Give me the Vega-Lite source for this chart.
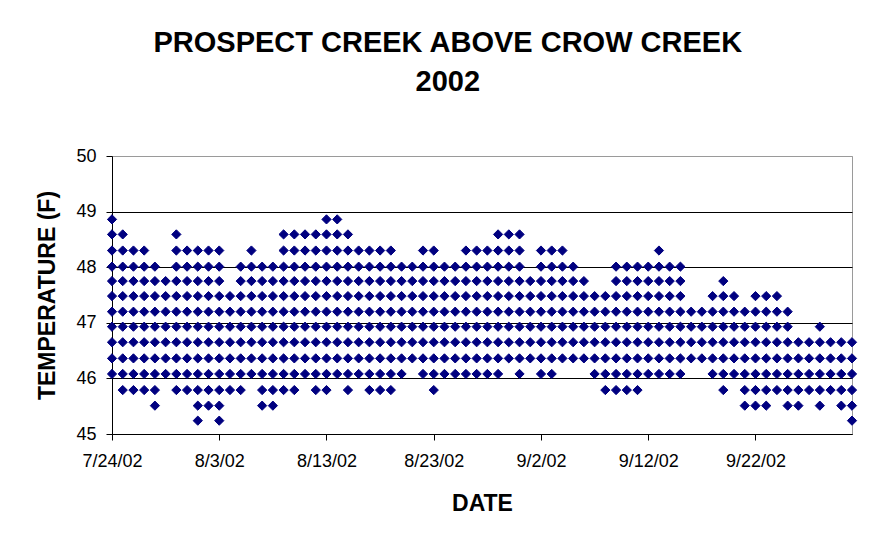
{
"$schema": "https://vega.github.io/schema/vega-lite/v6.json",
"width": 740, "height": 278,
"autosize": "none",
"padding": {"left": 112, "top": 156, "right": 44, "bottom": 116},
"background": "white",
"title": {"text": ["PROSPECT CREEK ABOVE CROW CREEK", "2002"], "font": "Liberation Sans", "fontSize": 29, "fontWeight": "bold", "color": "black", "anchor": "middle", "frame": "bounds", "offset": 50, "lineHeight": 39},
"data": {"values": [
{"d":"2002-07-24","t":46.08},{"d":"2002-07-24","t":46.36},{"d":"2002-07-24","t":46.65},{"d":"2002-07-24","t":46.93},{"d":"2002-07-24","t":47.2},{"d":"2002-07-24","t":47.48},{"d":"2002-07-24","t":47.75},{"d":"2002-07-24","t":48.01},{"d":"2002-07-24","t":48.3},{"d":"2002-07-24","t":48.59},{"d":"2002-07-24","t":48.86},
{"d":"2002-07-25","t":45.79},{"d":"2002-07-25","t":46.08},{"d":"2002-07-25","t":46.36},{"d":"2002-07-25","t":46.65},{"d":"2002-07-25","t":46.93},{"d":"2002-07-25","t":47.2},{"d":"2002-07-25","t":47.48},{"d":"2002-07-25","t":47.75},{"d":"2002-07-25","t":48.01},{"d":"2002-07-25","t":48.3},{"d":"2002-07-25","t":48.59},
{"d":"2002-07-26","t":45.79},{"d":"2002-07-26","t":46.08},{"d":"2002-07-26","t":46.36},{"d":"2002-07-26","t":46.65},{"d":"2002-07-26","t":46.93},{"d":"2002-07-26","t":47.2},{"d":"2002-07-26","t":47.48},{"d":"2002-07-26","t":47.75},{"d":"2002-07-26","t":48.01},{"d":"2002-07-26","t":48.3},
{"d":"2002-07-27","t":45.79},{"d":"2002-07-27","t":46.08},{"d":"2002-07-27","t":46.36},{"d":"2002-07-27","t":46.65},{"d":"2002-07-27","t":46.93},{"d":"2002-07-27","t":47.2},{"d":"2002-07-27","t":47.48},{"d":"2002-07-27","t":47.75},{"d":"2002-07-27","t":48.01},{"d":"2002-07-27","t":48.3},
{"d":"2002-07-28","t":45.51},{"d":"2002-07-28","t":45.79},{"d":"2002-07-28","t":46.08},{"d":"2002-07-28","t":46.36},{"d":"2002-07-28","t":46.65},{"d":"2002-07-28","t":46.93},{"d":"2002-07-28","t":47.2},{"d":"2002-07-28","t":47.48},{"d":"2002-07-28","t":47.75},{"d":"2002-07-28","t":48.01},
{"d":"2002-07-29","t":46.08},{"d":"2002-07-29","t":46.36},{"d":"2002-07-29","t":46.65},{"d":"2002-07-29","t":46.93},{"d":"2002-07-29","t":47.2},{"d":"2002-07-29","t":47.48},{"d":"2002-07-29","t":47.75},
{"d":"2002-07-30","t":45.79},{"d":"2002-07-30","t":46.08},{"d":"2002-07-30","t":46.36},{"d":"2002-07-30","t":46.65},{"d":"2002-07-30","t":46.93},{"d":"2002-07-30","t":47.2},{"d":"2002-07-30","t":47.48},{"d":"2002-07-30","t":47.75},{"d":"2002-07-30","t":48.01},{"d":"2002-07-30","t":48.3},{"d":"2002-07-30","t":48.59},
{"d":"2002-07-31","t":45.79},{"d":"2002-07-31","t":46.08},{"d":"2002-07-31","t":46.36},{"d":"2002-07-31","t":46.65},{"d":"2002-07-31","t":46.93},{"d":"2002-07-31","t":47.2},{"d":"2002-07-31","t":47.48},{"d":"2002-07-31","t":47.75},{"d":"2002-07-31","t":48.01},{"d":"2002-07-31","t":48.3},
{"d":"2002-08-01","t":45.24},{"d":"2002-08-01","t":45.51},{"d":"2002-08-01","t":45.79},{"d":"2002-08-01","t":46.08},{"d":"2002-08-01","t":46.36},{"d":"2002-08-01","t":46.65},{"d":"2002-08-01","t":46.93},{"d":"2002-08-01","t":47.2},{"d":"2002-08-01","t":47.48},{"d":"2002-08-01","t":47.75},{"d":"2002-08-01","t":48.01},{"d":"2002-08-01","t":48.3},
{"d":"2002-08-02","t":45.51},{"d":"2002-08-02","t":45.79},{"d":"2002-08-02","t":46.08},{"d":"2002-08-02","t":46.36},{"d":"2002-08-02","t":46.65},{"d":"2002-08-02","t":46.93},{"d":"2002-08-02","t":47.2},{"d":"2002-08-02","t":47.48},{"d":"2002-08-02","t":47.75},{"d":"2002-08-02","t":48.01},{"d":"2002-08-02","t":48.3},
{"d":"2002-08-03","t":45.24},{"d":"2002-08-03","t":45.51},{"d":"2002-08-03","t":45.79},{"d":"2002-08-03","t":46.08},{"d":"2002-08-03","t":46.36},{"d":"2002-08-03","t":46.65},{"d":"2002-08-03","t":46.93},{"d":"2002-08-03","t":47.2},{"d":"2002-08-03","t":47.48},{"d":"2002-08-03","t":47.75},{"d":"2002-08-03","t":48.01},{"d":"2002-08-03","t":48.3},
{"d":"2002-08-04","t":45.79},{"d":"2002-08-04","t":46.08},{"d":"2002-08-04","t":46.36},{"d":"2002-08-04","t":46.65},{"d":"2002-08-04","t":46.93},{"d":"2002-08-04","t":47.2},{"d":"2002-08-04","t":47.48},
{"d":"2002-08-05","t":45.79},{"d":"2002-08-05","t":46.08},{"d":"2002-08-05","t":46.36},{"d":"2002-08-05","t":46.65},{"d":"2002-08-05","t":46.93},{"d":"2002-08-05","t":47.2},{"d":"2002-08-05","t":47.48},{"d":"2002-08-05","t":47.75},{"d":"2002-08-05","t":48.01},
{"d":"2002-08-06","t":46.08},{"d":"2002-08-06","t":46.36},{"d":"2002-08-06","t":46.65},{"d":"2002-08-06","t":46.93},{"d":"2002-08-06","t":47.2},{"d":"2002-08-06","t":47.48},{"d":"2002-08-06","t":47.75},{"d":"2002-08-06","t":48.01},{"d":"2002-08-06","t":48.3},
{"d":"2002-08-07","t":45.51},{"d":"2002-08-07","t":45.79},{"d":"2002-08-07","t":46.08},{"d":"2002-08-07","t":46.36},{"d":"2002-08-07","t":46.65},{"d":"2002-08-07","t":46.93},{"d":"2002-08-07","t":47.2},{"d":"2002-08-07","t":47.48},{"d":"2002-08-07","t":47.75},{"d":"2002-08-07","t":48.01},
{"d":"2002-08-08","t":45.51},{"d":"2002-08-08","t":45.79},{"d":"2002-08-08","t":46.08},{"d":"2002-08-08","t":46.36},{"d":"2002-08-08","t":46.65},{"d":"2002-08-08","t":46.93},{"d":"2002-08-08","t":47.2},{"d":"2002-08-08","t":47.48},{"d":"2002-08-08","t":47.75},{"d":"2002-08-08","t":48.01},
{"d":"2002-08-09","t":45.79},{"d":"2002-08-09","t":46.08},{"d":"2002-08-09","t":46.36},{"d":"2002-08-09","t":46.65},{"d":"2002-08-09","t":46.93},{"d":"2002-08-09","t":47.2},{"d":"2002-08-09","t":47.48},{"d":"2002-08-09","t":47.75},{"d":"2002-08-09","t":48.01},{"d":"2002-08-09","t":48.3},{"d":"2002-08-09","t":48.59},
{"d":"2002-08-10","t":45.79},{"d":"2002-08-10","t":46.08},{"d":"2002-08-10","t":46.36},{"d":"2002-08-10","t":46.65},{"d":"2002-08-10","t":46.93},{"d":"2002-08-10","t":47.2},{"d":"2002-08-10","t":47.48},{"d":"2002-08-10","t":47.75},{"d":"2002-08-10","t":48.01},{"d":"2002-08-10","t":48.3},{"d":"2002-08-10","t":48.59},
{"d":"2002-08-11","t":46.08},{"d":"2002-08-11","t":46.36},{"d":"2002-08-11","t":46.65},{"d":"2002-08-11","t":46.93},{"d":"2002-08-11","t":47.2},{"d":"2002-08-11","t":47.48},{"d":"2002-08-11","t":47.75},{"d":"2002-08-11","t":48.01},{"d":"2002-08-11","t":48.3},{"d":"2002-08-11","t":48.59},
{"d":"2002-08-12","t":45.79},{"d":"2002-08-12","t":46.08},{"d":"2002-08-12","t":46.36},{"d":"2002-08-12","t":46.65},{"d":"2002-08-12","t":46.93},{"d":"2002-08-12","t":47.2},{"d":"2002-08-12","t":47.48},{"d":"2002-08-12","t":47.75},{"d":"2002-08-12","t":48.01},{"d":"2002-08-12","t":48.3},{"d":"2002-08-12","t":48.59},
{"d":"2002-08-13","t":45.79},{"d":"2002-08-13","t":46.08},{"d":"2002-08-13","t":46.36},{"d":"2002-08-13","t":46.65},{"d":"2002-08-13","t":46.93},{"d":"2002-08-13","t":47.2},{"d":"2002-08-13","t":47.48},{"d":"2002-08-13","t":47.75},{"d":"2002-08-13","t":48.01},{"d":"2002-08-13","t":48.3},{"d":"2002-08-13","t":48.59},{"d":"2002-08-13","t":48.86},
{"d":"2002-08-14","t":46.08},{"d":"2002-08-14","t":46.36},{"d":"2002-08-14","t":46.65},{"d":"2002-08-14","t":46.93},{"d":"2002-08-14","t":47.2},{"d":"2002-08-14","t":47.48},{"d":"2002-08-14","t":47.75},{"d":"2002-08-14","t":48.01},{"d":"2002-08-14","t":48.3},{"d":"2002-08-14","t":48.59},{"d":"2002-08-14","t":48.86},
{"d":"2002-08-15","t":45.79},{"d":"2002-08-15","t":46.08},{"d":"2002-08-15","t":46.36},{"d":"2002-08-15","t":46.65},{"d":"2002-08-15","t":46.93},{"d":"2002-08-15","t":47.2},{"d":"2002-08-15","t":47.48},{"d":"2002-08-15","t":47.75},{"d":"2002-08-15","t":48.01},{"d":"2002-08-15","t":48.3},{"d":"2002-08-15","t":48.59},
{"d":"2002-08-16","t":46.08},{"d":"2002-08-16","t":46.36},{"d":"2002-08-16","t":46.65},{"d":"2002-08-16","t":46.93},{"d":"2002-08-16","t":47.2},{"d":"2002-08-16","t":47.48},{"d":"2002-08-16","t":47.75},{"d":"2002-08-16","t":48.01},{"d":"2002-08-16","t":48.3},
{"d":"2002-08-17","t":45.79},{"d":"2002-08-17","t":46.08},{"d":"2002-08-17","t":46.36},{"d":"2002-08-17","t":46.65},{"d":"2002-08-17","t":46.93},{"d":"2002-08-17","t":47.2},{"d":"2002-08-17","t":47.48},{"d":"2002-08-17","t":47.75},{"d":"2002-08-17","t":48.01},{"d":"2002-08-17","t":48.3},
{"d":"2002-08-18","t":45.79},{"d":"2002-08-18","t":46.08},{"d":"2002-08-18","t":46.36},{"d":"2002-08-18","t":46.65},{"d":"2002-08-18","t":46.93},{"d":"2002-08-18","t":47.2},{"d":"2002-08-18","t":47.48},{"d":"2002-08-18","t":47.75},{"d":"2002-08-18","t":48.01},{"d":"2002-08-18","t":48.3},
{"d":"2002-08-19","t":45.79},{"d":"2002-08-19","t":46.08},{"d":"2002-08-19","t":46.36},{"d":"2002-08-19","t":46.65},{"d":"2002-08-19","t":46.93},{"d":"2002-08-19","t":47.2},{"d":"2002-08-19","t":47.48},{"d":"2002-08-19","t":47.75},{"d":"2002-08-19","t":48.01},{"d":"2002-08-19","t":48.3},
{"d":"2002-08-20","t":46.08},{"d":"2002-08-20","t":46.36},{"d":"2002-08-20","t":46.65},{"d":"2002-08-20","t":46.93},{"d":"2002-08-20","t":47.2},{"d":"2002-08-20","t":47.48},{"d":"2002-08-20","t":47.75},{"d":"2002-08-20","t":48.01},
{"d":"2002-08-21","t":46.36},{"d":"2002-08-21","t":46.65},{"d":"2002-08-21","t":46.93},{"d":"2002-08-21","t":47.2},{"d":"2002-08-21","t":47.48},{"d":"2002-08-21","t":47.75},{"d":"2002-08-21","t":48.01},
{"d":"2002-08-22","t":46.08},{"d":"2002-08-22","t":46.36},{"d":"2002-08-22","t":46.65},{"d":"2002-08-22","t":46.93},{"d":"2002-08-22","t":47.2},{"d":"2002-08-22","t":47.48},{"d":"2002-08-22","t":47.75},{"d":"2002-08-22","t":48.01},{"d":"2002-08-22","t":48.3},
{"d":"2002-08-23","t":45.79},{"d":"2002-08-23","t":46.08},{"d":"2002-08-23","t":46.36},{"d":"2002-08-23","t":46.65},{"d":"2002-08-23","t":46.93},{"d":"2002-08-23","t":47.2},{"d":"2002-08-23","t":47.48},{"d":"2002-08-23","t":47.75},{"d":"2002-08-23","t":48.01},{"d":"2002-08-23","t":48.3},
{"d":"2002-08-24","t":46.08},{"d":"2002-08-24","t":46.36},{"d":"2002-08-24","t":46.65},{"d":"2002-08-24","t":46.93},{"d":"2002-08-24","t":47.2},{"d":"2002-08-24","t":47.48},{"d":"2002-08-24","t":47.75},{"d":"2002-08-24","t":48.01},
{"d":"2002-08-25","t":46.08},{"d":"2002-08-25","t":46.36},{"d":"2002-08-25","t":46.65},{"d":"2002-08-25","t":46.93},{"d":"2002-08-25","t":47.2},{"d":"2002-08-25","t":47.48},{"d":"2002-08-25","t":47.75},{"d":"2002-08-25","t":48.01},
{"d":"2002-08-26","t":46.08},{"d":"2002-08-26","t":46.36},{"d":"2002-08-26","t":46.65},{"d":"2002-08-26","t":46.93},{"d":"2002-08-26","t":47.2},{"d":"2002-08-26","t":47.48},{"d":"2002-08-26","t":47.75},{"d":"2002-08-26","t":48.01},{"d":"2002-08-26","t":48.3},
{"d":"2002-08-27","t":46.08},{"d":"2002-08-27","t":46.36},{"d":"2002-08-27","t":46.65},{"d":"2002-08-27","t":46.93},{"d":"2002-08-27","t":47.2},{"d":"2002-08-27","t":47.48},{"d":"2002-08-27","t":47.75},{"d":"2002-08-27","t":48.01},{"d":"2002-08-27","t":48.3},
{"d":"2002-08-28","t":46.08},{"d":"2002-08-28","t":46.36},{"d":"2002-08-28","t":46.65},{"d":"2002-08-28","t":46.93},{"d":"2002-08-28","t":47.2},{"d":"2002-08-28","t":47.48},{"d":"2002-08-28","t":47.75},{"d":"2002-08-28","t":48.01},{"d":"2002-08-28","t":48.3},
{"d":"2002-08-29","t":46.08},{"d":"2002-08-29","t":46.36},{"d":"2002-08-29","t":46.65},{"d":"2002-08-29","t":46.93},{"d":"2002-08-29","t":47.2},{"d":"2002-08-29","t":47.48},{"d":"2002-08-29","t":47.75},{"d":"2002-08-29","t":48.01},{"d":"2002-08-29","t":48.3},{"d":"2002-08-29","t":48.59},
{"d":"2002-08-30","t":46.36},{"d":"2002-08-30","t":46.65},{"d":"2002-08-30","t":46.93},{"d":"2002-08-30","t":47.2},{"d":"2002-08-30","t":47.48},{"d":"2002-08-30","t":47.75},{"d":"2002-08-30","t":48.01},{"d":"2002-08-30","t":48.3},{"d":"2002-08-30","t":48.59},
{"d":"2002-08-31","t":46.08},{"d":"2002-08-31","t":46.36},{"d":"2002-08-31","t":46.65},{"d":"2002-08-31","t":46.93},{"d":"2002-08-31","t":47.2},{"d":"2002-08-31","t":47.48},{"d":"2002-08-31","t":47.75},{"d":"2002-08-31","t":48.01},{"d":"2002-08-31","t":48.3},{"d":"2002-08-31","t":48.59},
{"d":"2002-09-01","t":46.36},{"d":"2002-09-01","t":46.65},{"d":"2002-09-01","t":46.93},{"d":"2002-09-01","t":47.2},{"d":"2002-09-01","t":47.48},{"d":"2002-09-01","t":47.75},
{"d":"2002-09-02","t":46.08},{"d":"2002-09-02","t":46.36},{"d":"2002-09-02","t":46.65},{"d":"2002-09-02","t":46.93},{"d":"2002-09-02","t":47.2},{"d":"2002-09-02","t":47.48},{"d":"2002-09-02","t":47.75},{"d":"2002-09-02","t":48.01},{"d":"2002-09-02","t":48.3},
{"d":"2002-09-03","t":46.08},{"d":"2002-09-03","t":46.36},{"d":"2002-09-03","t":46.65},{"d":"2002-09-03","t":46.93},{"d":"2002-09-03","t":47.2},{"d":"2002-09-03","t":47.48},{"d":"2002-09-03","t":47.75},{"d":"2002-09-03","t":48.01},{"d":"2002-09-03","t":48.3},
{"d":"2002-09-04","t":46.36},{"d":"2002-09-04","t":46.65},{"d":"2002-09-04","t":46.93},{"d":"2002-09-04","t":47.2},{"d":"2002-09-04","t":47.48},{"d":"2002-09-04","t":47.75},{"d":"2002-09-04","t":48.01},{"d":"2002-09-04","t":48.3},
{"d":"2002-09-05","t":46.36},{"d":"2002-09-05","t":46.65},{"d":"2002-09-05","t":46.93},{"d":"2002-09-05","t":47.2},{"d":"2002-09-05","t":47.48},{"d":"2002-09-05","t":47.75},{"d":"2002-09-05","t":48.01},
{"d":"2002-09-06","t":46.36},{"d":"2002-09-06","t":46.65},{"d":"2002-09-06","t":46.93},{"d":"2002-09-06","t":47.2},{"d":"2002-09-06","t":47.48},{"d":"2002-09-06","t":47.75},
{"d":"2002-09-07","t":46.08},{"d":"2002-09-07","t":46.36},{"d":"2002-09-07","t":46.65},{"d":"2002-09-07","t":46.93},{"d":"2002-09-07","t":47.2},{"d":"2002-09-07","t":47.48},
{"d":"2002-09-08","t":45.79},{"d":"2002-09-08","t":46.08},{"d":"2002-09-08","t":46.36},{"d":"2002-09-08","t":46.65},{"d":"2002-09-08","t":46.93},{"d":"2002-09-08","t":47.2},{"d":"2002-09-08","t":47.48},
{"d":"2002-09-09","t":45.79},{"d":"2002-09-09","t":46.08},{"d":"2002-09-09","t":46.36},{"d":"2002-09-09","t":46.65},{"d":"2002-09-09","t":46.93},{"d":"2002-09-09","t":47.2},{"d":"2002-09-09","t":47.48},{"d":"2002-09-09","t":47.75},{"d":"2002-09-09","t":48.01},
{"d":"2002-09-10","t":45.79},{"d":"2002-09-10","t":46.08},{"d":"2002-09-10","t":46.36},{"d":"2002-09-10","t":46.65},{"d":"2002-09-10","t":46.93},{"d":"2002-09-10","t":47.2},{"d":"2002-09-10","t":47.48},{"d":"2002-09-10","t":47.75},{"d":"2002-09-10","t":48.01},
{"d":"2002-09-11","t":45.79},{"d":"2002-09-11","t":46.08},{"d":"2002-09-11","t":46.36},{"d":"2002-09-11","t":46.65},{"d":"2002-09-11","t":46.93},{"d":"2002-09-11","t":47.2},{"d":"2002-09-11","t":47.48},{"d":"2002-09-11","t":47.75},{"d":"2002-09-11","t":48.01},
{"d":"2002-09-12","t":46.08},{"d":"2002-09-12","t":46.36},{"d":"2002-09-12","t":46.65},{"d":"2002-09-12","t":46.93},{"d":"2002-09-12","t":47.2},{"d":"2002-09-12","t":47.48},{"d":"2002-09-12","t":47.75},{"d":"2002-09-12","t":48.01},
{"d":"2002-09-13","t":46.08},{"d":"2002-09-13","t":46.36},{"d":"2002-09-13","t":46.65},{"d":"2002-09-13","t":46.93},{"d":"2002-09-13","t":47.2},{"d":"2002-09-13","t":47.48},{"d":"2002-09-13","t":47.75},{"d":"2002-09-13","t":48.01},{"d":"2002-09-13","t":48.3},
{"d":"2002-09-14","t":46.08},{"d":"2002-09-14","t":46.36},{"d":"2002-09-14","t":46.65},{"d":"2002-09-14","t":46.93},{"d":"2002-09-14","t":47.2},{"d":"2002-09-14","t":47.48},{"d":"2002-09-14","t":47.75},{"d":"2002-09-14","t":48.01},
{"d":"2002-09-15","t":46.08},{"d":"2002-09-15","t":46.36},{"d":"2002-09-15","t":46.65},{"d":"2002-09-15","t":46.93},{"d":"2002-09-15","t":47.2},{"d":"2002-09-15","t":47.48},{"d":"2002-09-15","t":47.75},{"d":"2002-09-15","t":48.01},
{"d":"2002-09-16","t":46.36},{"d":"2002-09-16","t":46.65},{"d":"2002-09-16","t":46.93},{"d":"2002-09-16","t":47.2},
{"d":"2002-09-17","t":46.36},{"d":"2002-09-17","t":46.65},{"d":"2002-09-17","t":46.93},{"d":"2002-09-17","t":47.2},
{"d":"2002-09-18","t":46.08},{"d":"2002-09-18","t":46.36},{"d":"2002-09-18","t":46.65},{"d":"2002-09-18","t":46.93},{"d":"2002-09-18","t":47.2},{"d":"2002-09-18","t":47.48},
{"d":"2002-09-19","t":45.79},{"d":"2002-09-19","t":46.08},{"d":"2002-09-19","t":46.36},{"d":"2002-09-19","t":46.65},{"d":"2002-09-19","t":46.93},{"d":"2002-09-19","t":47.2},{"d":"2002-09-19","t":47.48},{"d":"2002-09-19","t":47.75},
{"d":"2002-09-20","t":46.08},{"d":"2002-09-20","t":46.36},{"d":"2002-09-20","t":46.65},{"d":"2002-09-20","t":46.93},{"d":"2002-09-20","t":47.2},{"d":"2002-09-20","t":47.48},
{"d":"2002-09-21","t":45.51},{"d":"2002-09-21","t":45.79},{"d":"2002-09-21","t":46.08},{"d":"2002-09-21","t":46.36},{"d":"2002-09-21","t":46.65},{"d":"2002-09-21","t":46.93},{"d":"2002-09-21","t":47.2},
{"d":"2002-09-22","t":45.51},{"d":"2002-09-22","t":45.79},{"d":"2002-09-22","t":46.08},{"d":"2002-09-22","t":46.36},{"d":"2002-09-22","t":46.65},{"d":"2002-09-22","t":46.93},{"d":"2002-09-22","t":47.2},{"d":"2002-09-22","t":47.48},
{"d":"2002-09-23","t":45.51},{"d":"2002-09-23","t":45.79},{"d":"2002-09-23","t":46.08},{"d":"2002-09-23","t":46.36},{"d":"2002-09-23","t":46.65},{"d":"2002-09-23","t":46.93},{"d":"2002-09-23","t":47.2},{"d":"2002-09-23","t":47.48},
{"d":"2002-09-24","t":45.79},{"d":"2002-09-24","t":46.08},{"d":"2002-09-24","t":46.36},{"d":"2002-09-24","t":46.65},{"d":"2002-09-24","t":46.93},{"d":"2002-09-24","t":47.2},{"d":"2002-09-24","t":47.48},
{"d":"2002-09-25","t":45.51},{"d":"2002-09-25","t":45.79},{"d":"2002-09-25","t":46.08},{"d":"2002-09-25","t":46.36},{"d":"2002-09-25","t":46.65},{"d":"2002-09-25","t":46.93},{"d":"2002-09-25","t":47.2},
{"d":"2002-09-26","t":45.51},{"d":"2002-09-26","t":45.79},{"d":"2002-09-26","t":46.08},{"d":"2002-09-26","t":46.36},{"d":"2002-09-26","t":46.65},
{"d":"2002-09-27","t":45.79},{"d":"2002-09-27","t":46.08},{"d":"2002-09-27","t":46.36},{"d":"2002-09-27","t":46.65},
{"d":"2002-09-28","t":45.51},{"d":"2002-09-28","t":45.79},{"d":"2002-09-28","t":46.08},{"d":"2002-09-28","t":46.36},{"d":"2002-09-28","t":46.65},{"d":"2002-09-28","t":46.93},
{"d":"2002-09-29","t":45.79},{"d":"2002-09-29","t":46.08},{"d":"2002-09-29","t":46.36},{"d":"2002-09-29","t":46.65},
{"d":"2002-09-30","t":45.51},{"d":"2002-09-30","t":45.79},{"d":"2002-09-30","t":46.08},{"d":"2002-09-30","t":46.36},{"d":"2002-09-30","t":46.65},
{"d":"2002-10-01","t":45.24},{"d":"2002-10-01","t":45.51},{"d":"2002-10-01","t":45.79},{"d":"2002-10-01","t":46.08},{"d":"2002-10-01","t":46.36},{"d":"2002-10-01","t":46.65}
]},
"mark": {"type": "point", "shape": "diamond", "filled": true, "size": 85, "color": "#000080", "stroke": "#000080", "strokeWidth": 1, "opacity": 1, "clip": false},
"encoding": {
  "x": {"field": "d", "type": "temporal", "title": "DATE",
    "scale": {"type": "utc", "domain": [{"year": 2002, "month": "jul", "date": 24, "utc": true}, {"year": 2002, "month": "oct", "date": 1, "utc": true}]},
    "axis": {"values": [{"year": 2002, "month": "jul", "date": 24, "utc": true}, {"year": 2002, "month": "aug", "date": 3, "utc": true}, {"year": 2002, "month": "aug", "date": 13, "utc": true}, {"year": 2002, "month": "aug", "date": 23, "utc": true}, {"year": 2002, "month": "sep", "date": 2, "utc": true}, {"year": 2002, "month": "sep", "date": 12, "utc": true}, {"year": 2002, "month": "sep", "date": 22, "utc": true}],
      "labelExpr": "utcFormat(datum.value, '%-m/%-d/%y')", "grid": false, "domainColor": "black", "domainWidth": 1, "tickColor": "black", "tickSize": 6, "labelFont": "Liberation Sans", "labelFontSize": 18, "labelColor": "black", "labelPadding": 12, "labelOverlap": false, "labelFlush": false, "titleFont": "Liberation Sans", "titleFontSize": 23, "titleFontWeight": "bold", "titleColor": "black", "titlePadding": 22}},
  "y": {"field": "t", "type": "quantitative", "title": "TEMPERATURE (F)",
    "scale": {"domain": [45, 50], "nice": false, "zero": false},
    "axis": {"values": [45, 46, 47, 48, 49, 50], "format": "d", "grid": true, "gridColor": {"condition": {"test": "datum.value === 50", "value": "#9a9a9a"}, "value": "black"}, "gridWidth": 1, "domainColor": "black", "tickColor": "black", "tickSize": 6, "labelFont": "Liberation Sans", "labelFontSize": 18, "labelColor": "black", "labelPadding": 10, "titleFont": "Liberation Sans", "titleFontSize": 23, "titleFontWeight": "bold", "titleColor": "black", "titlePadding": 16}}
},
"config": {"view": {"stroke": "#9a9a9a", "strokeWidth": 1}, "font": "Liberation Sans"}
}
